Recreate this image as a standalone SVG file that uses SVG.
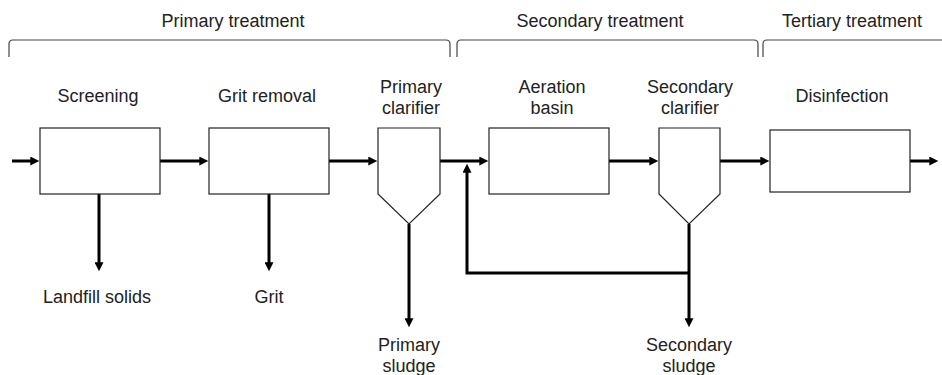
<svg xmlns="http://www.w3.org/2000/svg" width="942" height="375" viewBox="0 0 942 375">
<defs>
<style>
text{font-family:"Liberation Sans",Arial,sans-serif;font-size:18px;fill:#222;text-anchor:middle}
.unit{fill:#fff;stroke:#222;stroke-width:1.2}
.flow{fill:none;stroke:#000;stroke-width:3}
.brace{fill:none;stroke:#444;stroke-width:1.2}
</style>
<marker id="ah" viewBox="0 0 10 10" refX="3" refY="5" markerWidth="10" markerHeight="9" markerUnits="userSpaceOnUse" orient="auto">
<path d="M0,0 L10,5 L0,10 Z" fill="#000"/>
</marker>
</defs>
<g id="brackets">
<path class="brace" d="M9,57 L9,44 Q9,40 13,40 L446,40 Q450,40 450,44 L450,57"/>
<text x="233" y="27">Primary treatment</text>
<path class="brace" d="M457,57 L457,44 Q457,40 461,40 L754,40 Q758,40 758,44 L758,57"/>
<text x="600" y="27">Secondary treatment</text>
<path class="brace" d="M763,57 L763,44 Q763,40 767,40 L945,40"/>
<text x="852" y="27">Tertiary treatment</text>
</g>
<g id="connectors">
<line class="flow" x1="12" y1="161" x2="33" y2="161" marker-end="url(#ah)"/>
<line class="flow" x1="160" y1="161" x2="202" y2="161" marker-end="url(#ah)"/>
<line class="flow" x1="329" y1="161" x2="371" y2="161" marker-end="url(#ah)"/>
<line class="flow" x1="440" y1="161" x2="482" y2="161" marker-end="url(#ah)"/>
<line class="flow" x1="609" y1="161" x2="652" y2="161" marker-end="url(#ah)"/>
<line class="flow" x1="720" y1="161" x2="763" y2="161" marker-end="url(#ah)"/>
<line class="flow" x1="910" y1="161" x2="932" y2="161" marker-end="url(#ah)"/>
<line class="flow" x1="99" y1="194" x2="99" y2="265" marker-end="url(#ah)"/>
<line class="flow" x1="269" y1="194" x2="269" y2="265" marker-end="url(#ah)"/>
<line class="flow" x1="409" y1="224" x2="409" y2="321" marker-end="url(#ah)"/>
<line class="flow" x1="689" y1="224" x2="689" y2="321" marker-end="url(#ah)"/>
<polyline class="flow" points="689,273 467,273 467,170" marker-end="url(#ah)"/>
</g>
<g id="screening">
<rect class="unit" x="40" y="128" width="120" height="66"/>
<text x="98" y="102">Screening</text>
</g>
<g id="grit-removal">
<rect class="unit" x="209" y="128" width="120" height="66"/>
<text x="267" y="102">Grit removal</text>
</g>
<g id="primary-clarifier">
<polygon class="unit" points="378,128 440,128 440,194 409,224 378,194"/>
<text x="411" y="93">Primary</text>
<text x="411" y="114">clarifier</text>
</g>
<g id="aeration-basin">
<rect class="unit" x="489" y="128" width="120" height="66"/>
<text x="552" y="93">Aeration</text>
<text x="552" y="114">basin</text>
</g>
<g id="secondary-clarifier">
<polygon class="unit" points="659,128 720,128 720,194 689,224 659,194"/>
<text x="690" y="93">Secondary</text>
<text x="690" y="114">clarifier</text>
</g>
<g id="disinfection">
<rect class="unit" x="770" y="130" width="140" height="62"/>
<text x="842" y="102">Disinfection</text>
</g>
<g id="landfill-solids"><text x="97" y="303">Landfill solids</text></g>
<g id="grit"><text x="269" y="303">Grit</text></g>
<g id="primary-sludge"><text x="409" y="351">Primary</text><text x="409" y="372">sludge</text></g>
<g id="secondary-sludge"><text x="689" y="351">Secondary</text><text x="689" y="372">sludge</text></g>
</svg>
